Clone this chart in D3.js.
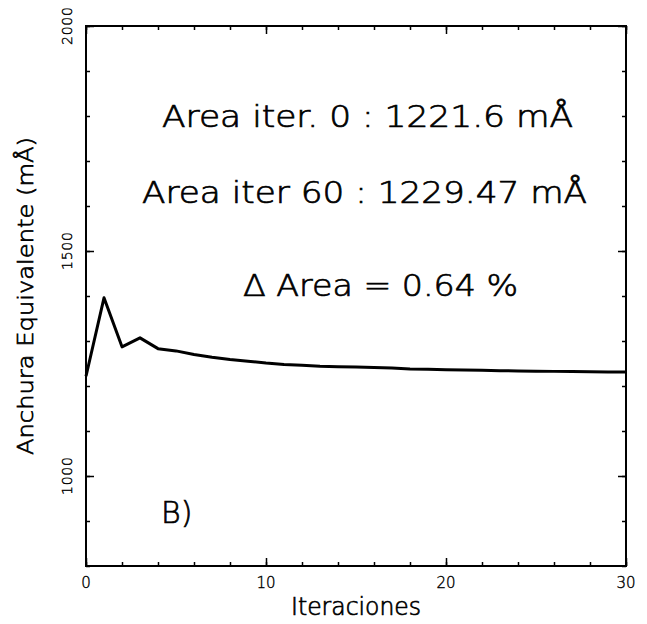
<!DOCTYPE html>
<html>
<head>
<meta charset="utf-8">
<script src="https://cdn.jsdelivr.net/npm/d3@7"></script>
<style>
  html, body { margin: 0; padding: 0; background: #fff; }
  svg { display: block; }
  text { font-family: "DejaVu Sans", sans-serif; font-weight: 200; fill: #000; }
  text.stroked { stroke: #000; stroke-width: 0.7px; }
</style>
</head>
<body>
<svg id="chart" width="647" height="624"></svg>
<script>
// Equivalent width per iteration (mÅ)
const iterations = d3.range(0, 31);
const anchura = [1221.6, 1396, 1287, 1307, 1283, 1278, 1270, 1264, 1259, 1255,
                 1251, 1248, 1246, 1244, 1243, 1242, 1241, 1240, 1238, 1237,
                 1236, 1235.5, 1235, 1234, 1233.5, 1233, 1232.5, 1232, 1231.5, 1231, 1231];
const xMajorTicks = [0, 10, 20, 30];
const xMinorTicks = d3.range(0, 31, 2);
const yMajorTicks = [1000, 1500, 2000];
const yMinorTicks = d3.range(800, 2001, 100);
const annotations = [
  { text: "Area iter. 0 : 1221.6 mÅ", x: 162, y: 127, len: 411 },
  { text: "Area iter 60 : 1229.47 mÅ", x: 142, y: 203, len: 445 },
  { text: "Δ Area = 0.64 %", x: 243, y: 296, len: 275 },
  { text: "B)", x: 161, y: 523, len: 0 }
];

const svg = d3.select("#chart");
const margin = { left: 86, right: 21, top: 26, bottom: 58 };
const W = 647, H = 624;
const x = d3.scaleLinear().domain([0, 30]).range([margin.left, W - margin.right]);
const y = d3.scaleLinear().domain([800, 2000]).range([H - margin.bottom, margin.top]);

// Frame
svg.append("rect")
  .attr("x", x(0)).attr("y", y(2000))
  .attr("width", x(30) - x(0)).attr("height", y(800) - y(2000))
  .attr("fill", "none").attr("stroke", "#000").attr("stroke-width", 2);

// Inward ticks on all four sides
function ticks(axisGen, values, size, transform) {
  const g = svg.append("g").attr("transform", transform)
    .call(axisGen.tickValues(values).tickSize(size).tickFormat(""));
  g.select(".domain").remove();
  g.selectAll(".tick line").attr("stroke", "#000").attr("stroke-width", 1.5);
  return g;
}
ticks(d3.axisTop(x), xMinorTicks, 4, `translate(0,${y(800)})`);
ticks(d3.axisTop(x), xMajorTicks, 8, `translate(0,${y(800)})`);
ticks(d3.axisBottom(x), xMinorTicks, 4, `translate(0,${y(2000)})`);
ticks(d3.axisBottom(x), xMajorTicks, 8, `translate(0,${y(2000)})`);
ticks(d3.axisRight(y), yMinorTicks, 4, `translate(${x(0)},0)`);
ticks(d3.axisRight(y), yMajorTicks, 8, `translate(${x(0)},0)`);
ticks(d3.axisLeft(y), yMinorTicks, 4, `translate(${x(30)},0)`);
ticks(d3.axisLeft(y), yMajorTicks, 8, `translate(${x(30)},0)`);

// X tick labels
svg.append("g").selectAll("text").data(xMajorTicks).join("text")
  .attr("x", d => x(d)).attr("y", y(800) + 22)
  .attr("text-anchor", "middle").attr("font-size", 15).attr("font-weight", 400)
  .attr("class", "stroked").style("stroke-width", "0.4px")
  .text(d => d);

// Y tick labels (rotated)
svg.append("g").selectAll("text").data(yMajorTicks).join("text")
  .attr("transform", d => `translate(72,${y(d)}) rotate(-90)`)
  .attr("text-anchor", "middle").attr("font-size", 14).attr("font-weight", 400)
  .attr("class", "stroked").style("stroke-width", "0.4px")
  .attr("textLength", 38).attr("lengthAdjust", "spacing")
  .text(d => d);

// Axis titles
svg.append("text")
  .attr("class", "stroked")
  .attr("x", (x(0) + x(30)) / 2).attr("y", 615)
  .attr("text-anchor", "middle").attr("font-size", 24)
  .attr("textLength", 130).attr("lengthAdjust", "spacingAndGlyphs")
  .text("Iteraciones");
svg.append("text")
  .attr("class", "stroked")
  .attr("transform", `translate(33,${(y(800) + y(2000)) / 2}) rotate(-90)`)
  .attr("text-anchor", "middle").attr("font-size", 22)
  .attr("textLength", 318).attr("lengthAdjust", "spacingAndGlyphs")
  .text("Anchura Equivalente (mÅ)");

// Data line
const line = d3.line().x((d, i) => x(iterations[i])).y(d => y(d));
svg.append("path").datum(anchura)
  .attr("d", line).attr("fill", "none")
  .attr("stroke", "#000").attr("stroke-width", 3).attr("stroke-linejoin", "round");

// Annotations
svg.append("g").selectAll("text").data(annotations).join("text")
  .attr("class", "stroked")
  .attr("x", d => d.x).attr("y", d => d.y)
  .attr("font-size", 30)
  .each(function(d) {
    if (d.len) d3.select(this).attr("textLength", d.len).attr("lengthAdjust", "spacingAndGlyphs");
  })
  .text(d => d.text);
</script>
</body>
</html>
